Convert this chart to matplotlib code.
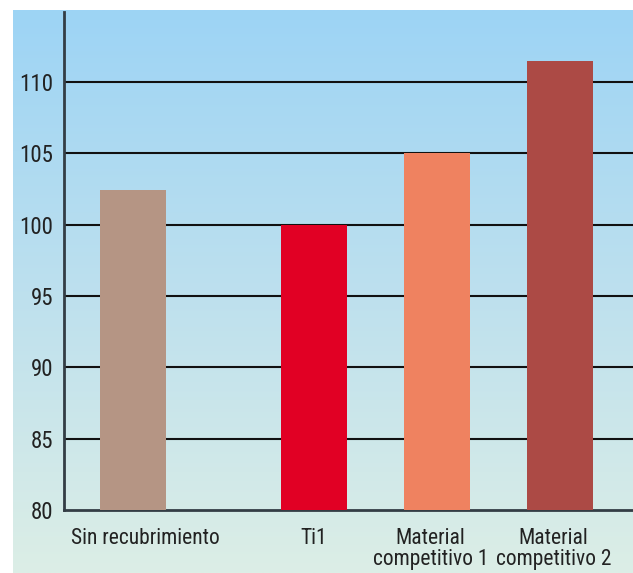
import numpy as np
import matplotlib
matplotlib.use("Agg")
import matplotlib.pyplot as plt
from matplotlib.colors import LinearSegmentedColormap

plt.rcParams['font.family'] = ['Roboto Condensed', 'DejaVu Sans']

# data
categories = ['Sin recubrimiento', 'Ti1', 'Material\ncompetitivo 1', 'Material\ncompetitivo 2']
values = [102.4, 100.0, 105.0, 111.5]
bar_colors = ['#b59584', '#e10024', '#ef8260', '#ac4a45']
positions = [0.0, 1.47, 2.47, 3.47]
label_shift = [0.1, 0.0, -0.05, -0.05]   # labels are not quite centred under the bars
y_ticks = [80, 85, 90, 95, 100, 105, 110]

fig = plt.figure(figsize=(6.33, 5.73), dpi=100)

# gradient background panel
bg = fig.add_axes([13/633, 0, 1 - 13/633, 1 - 10/573], zorder=0)
cmap = LinearSegmentedColormap.from_list('bg', ['#9dd4f5', '#bde0ee', '#dceee6'])
grad = np.linspace(0, 1, 256).reshape(-1, 1)
bg.imshow(grad, aspect='auto', cmap=cmap, extent=[0, 1, 0, 1], origin='upper')
bg.set_axis_off()

ax = fig.add_axes([64/633, 1 - 510/573, 1 - 64/633, (510 - 12)/573], zorder=1)
ax.patch.set_alpha(0)

ax.bar(positions, values, width=0.537, bottom=0, color=bar_colors, zorder=3)
ax.set_ylim(80, 114.9)
ax.set_xlim(-0.561, 4.065)

ax.set_yticks(y_ticks)
ax.set_yticklabels([str(t) for t in y_ticks])
ax.set_xticks([p + d for p, d in zip(positions, label_shift)])
ax.set_xticklabels(categories, linespacing=1.0)
ax.tick_params(axis='both', length=0, colors='#222222')
ax.tick_params(axis='y', pad=8, labelsize=16.5)
ax.tick_params(axis='x', pad=13, labelsize=15.5)

for t in y_ticks[1:]:
    ax.axhline(t, color='#111111', linewidth=1.5, zorder=2)

for s in ['top', 'right']:
    ax.spines[s].set_visible(False)
ax.spines['left'].set_color('#333d45')
ax.spines['bottom'].set_color('#333d45')
ax.spines['left'].set_linewidth(2)
ax.spines['bottom'].set_linewidth(2)

fig.savefig('out.png', dpi=100)
